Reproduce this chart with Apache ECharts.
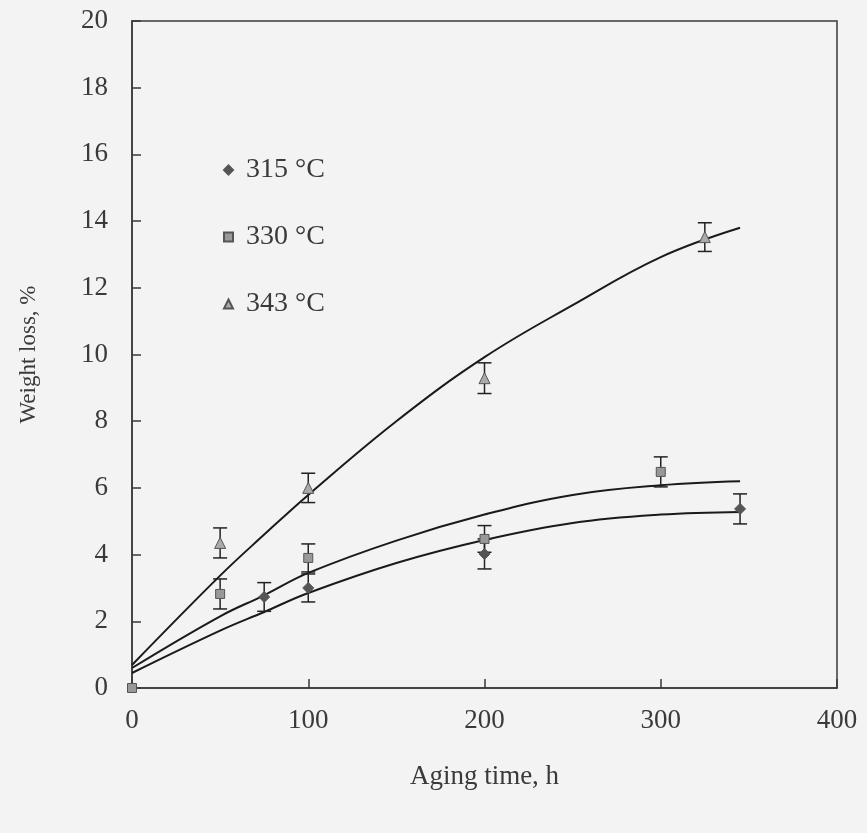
<!DOCTYPE html>
<html>
<head>
<meta charset="utf-8">
<script src="https://cdn.jsdelivr.net/npm/echarts@6/dist/echarts.min.js"></script>
<style>
  html, body { margin: 0; padding: 0; background: #f3f3f3; }
  #chart { width: 867px; height: 833px; }
</style>
</head>
<body>
<div id="chart"></div>
<script>
// measured points (h, %) with error half-widths
const t315 = [75, 100, 200, 345];
const v315 = [2.73, 3.0, 4.02, 5.37];
const e315 = [0.43, 0.42, 0.45, 0.45];

const t330 = [0, 50, 100, 200, 300];
const v330 = [0, 2.82, 3.9, 4.47, 6.48];
const e330 = [0, 0.45, 0.42, 0.4, 0.45];

const t343 = [50, 100, 200, 325];
const v343 = [4.35, 6.0, 9.29, 13.52];
const e343 = [0.45, 0.44, 0.46, 0.43];

// fitted curves
const tFit = [0, 50, 75, 100, 150, 200, 250, 300, 345];
const fit315 = [0.45, 1.72, 2.28, 2.85, 3.75, 4.44, 4.95, 5.2, 5.28];
const fit330 = [0.6, 2.15, 2.78, 3.45, 4.42, 5.2, 5.79, 6.08, 6.2];
const fit343 = [0.69, 3.37, 4.6, 5.79, 8.0, 9.92, 11.48, 12.92, 13.8];

const names = ['315 \u00b0C', '330 \u00b0C', '343 \u00b0C'];

const serif = '"Liberation Serif", "DejaVu Serif", serif';
const ink = '#3a3a3a';

function pairs(xs, ys) {
    return xs.map(function (x, i) { return [x, ys[i]]; });
}
function triples(xs, ys, es) {
    return xs.map(function (x, i) { return [x, ys[i], es[i]]; });
}

function errorBars(params, api) {
    let x = api.value(0), y = api.value(1), e = api.value(2);
    if (!e) return null;
    let top = api.coord([x, y + e]);
    let bot = api.coord([x, y - e]);
    let w = 7;
    let style = { stroke: '#222', lineWidth: 1.5 };
    return {
        type: 'group',
        children: [
            { type: 'line', shape: { x1: top[0], y1: top[1], x2: bot[0], y2: bot[1] }, style: style },
            { type: 'line', shape: { x1: top[0] - w, y1: top[1], x2: top[0] + w, y2: top[1] }, style: style },
            { type: 'line', shape: { x1: bot[0] - w, y1: bot[1], x2: bot[0] + w, y2: bot[1] }, style: style }
        ]
    };
}

function curve(data) {
    return {
        type: 'line',
        data: data,
        smooth: 0.4,
        symbol: 'none',
        silent: true,
        lineStyle: { color: '#1a1a1a', width: 2 },
        z: 2
    };
}

function errSeries(data) {
    return {
        type: 'custom',
        renderItem: errorBars,
        data: data,
        encode: { x: 0, y: 1 },
        silent: true,
        z: 3
    };
}

function points(name, symbol, size, fill, data) {
    return {
        name: name,
        type: 'scatter',
        data: data,
        symbol: symbol,
        symbolSize: size,
        itemStyle: { color: fill, borderColor: '#555', borderWidth: 1, opacity: 1 },
        z: 4
    };
}

const chart = echarts.init(document.getElementById('chart'));
chart.setOption({
    backgroundColor: '#f3f3f3',
    animation: false,
    textStyle: { fontFamily: serif },
    grid: {
        left: 132,
        right: 30,
        top: 21,
        bottom: 145,
        show: true,
        borderColor: ink,
        borderWidth: 1.5,
        backgroundColor: 'transparent'
    },
    legend: {
        orient: 'vertical',
        left: 218,
        top: 151,
        itemGap: 39,
        itemWidth: 9,
        itemHeight: 9,
        data: names,
        textStyle: { fontFamily: serif, fontSize: 28, color: ink, lineHeight: 28, padding: [0, 0, 0, 8] }
    },
    xAxis: {
        type: 'value',
        min: 0,
        max: 400,
        interval: 100,
        name: 'Aging time, h',
        nameLocation: 'middle',
        nameGap: 75,
        nameTextStyle: { fontFamily: serif, fontSize: 27, color: ink },
        axisLine: { lineStyle: { color: ink, width: 1.5 } },
        axisTick: { inside: true, length: 9, lineStyle: { color: ink, width: 1.5 } },
        axisLabel: { margin: 19, fontFamily: serif, fontSize: 27, color: ink },
        splitLine: { show: false }
    },
    yAxis: {
        type: 'value',
        min: 0,
        max: 20,
        interval: 2,
        name: 'Weight loss, %',
        nameLocation: 'middle',
        nameGap: 92,
        nameTextStyle: { fontFamily: serif, fontSize: 23, color: ink },
        axisLine: { lineStyle: { color: ink, width: 1.5 } },
        axisTick: { inside: true, length: 9, lineStyle: { color: ink, width: 1.5 } },
        axisLabel: { margin: 24, fontFamily: serif, fontSize: 27, color: ink },
        splitLine: { show: false }
    },
    series: [
        curve(pairs(tFit, fit315)),
        curve(pairs(tFit, fit330)),
        curve(pairs(tFit, fit343)),
        errSeries(triples(t315, v315, e315)),
        errSeries(triples(t330, v330, e330)),
        errSeries(triples(t343, v343, e343)),
        points(names[0], 'diamond', 11, '#555', pairs(t315, v315)),
        points(names[2], 'triangle', 11, '#aaa', pairs(t343, v343)),
        points(names[1], 'rect', 9, '#999', pairs(t330, v330))
    ]
});
</script>
</body>
</html>
